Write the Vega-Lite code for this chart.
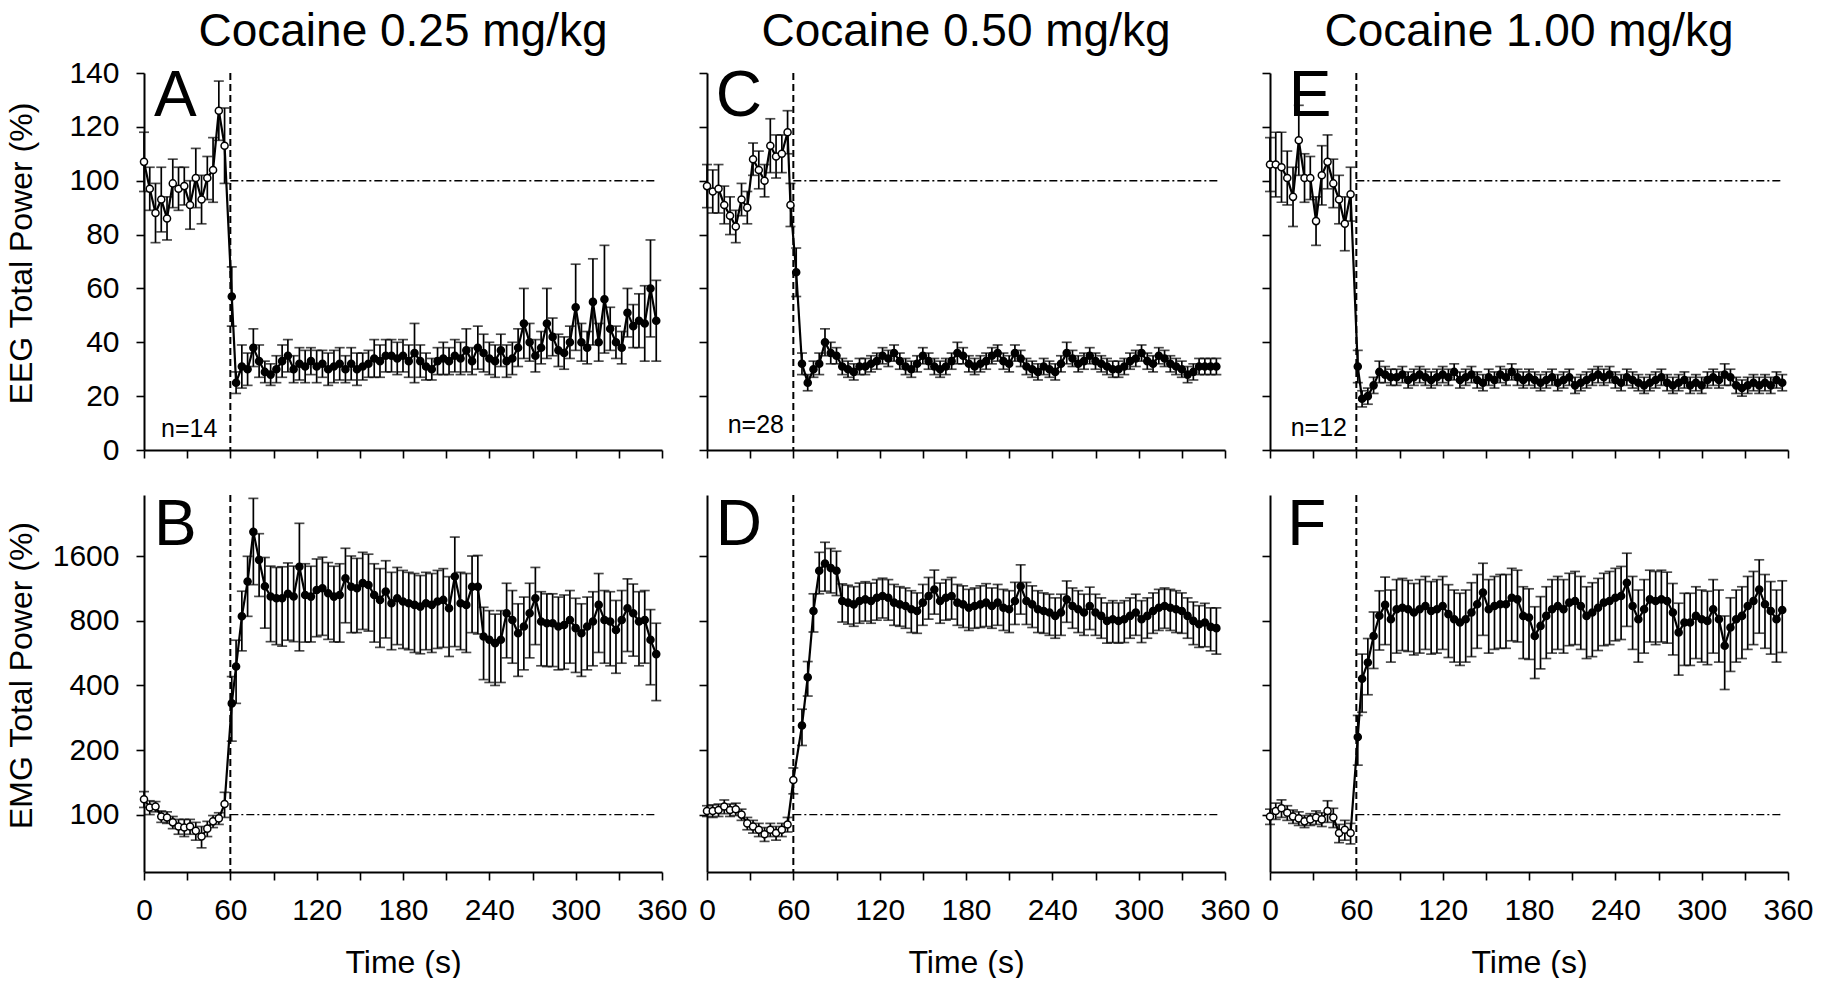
{
"$schema":"https://vega.github.io/schema/vega-lite/v6.json",
"background":"white",
"padding":{"left":4,"top":9,"right":5,"bottom":0},
"datasets":{"d":[
{"p":"A","t":0,"m":107,"e":11},{"p":"A","t":4,"m":97,"e":8},{"p":"A","t":8,"m":88,"e":11},{"p":"A","t":12,"m":93,"e":12},{"p":"A","t":16,"m":86,"e":8},{"p":"A","t":20,"m":99,"e":9},{"p":"A","t":24,"m":97,"e":8},{"p":"A","t":28,"m":98,"e":7},{"p":"A","t":32,"m":91,"e":9},{"p":"A","t":36,"m":101,"e":11},{"p":"A","t":40,"m":93,"e":9},{"p":"A","t":44,"m":101,"e":8},{"p":"A","t":48,"m":104,"e":12},{"p":"A","t":52,"m":126,"e":11},{"p":"A","t":56,"m":113,"e":14},
{"p":"A","t":61,"m":57,"e":11},{"p":"A","t":64,"m":25,"e":4},{"p":"A","t":68,"m":31,"e":8},{"p":"A","t":72,"m":30,"e":6},{"p":"A","t":76,"m":38,"e":7},{"p":"A","t":80,"m":33,"e":6},{"p":"A","t":84,"m":29,"e":4},{"p":"A","t":88,"m":28,"e":4},{"p":"A","t":92,"m":30,"e":5},{"p":"A","t":96,"m":33,"e":6},{"p":"A","t":100,"m":35,"e":6},{"p":"A","t":104,"m":30,"e":5},{"p":"A","t":108,"m":32,"e":6},{"p":"A","t":112,"m":31,"e":6},{"p":"A","t":116,"m":33,"e":5},{"p":"A","t":120,"m":31,"e":6},{"p":"A","t":124,"m":32,"e":5},{"p":"A","t":128,"m":30,"e":6},{"p":"A","t":132,"m":31,"e":6},{"p":"A","t":136,"m":32,"e":6},{"p":"A","t":140,"m":30,"e":5},{"p":"A","t":144,"m":32,"e":6},{"p":"A","t":148,"m":30,"e":6},{"p":"A","t":152,"m":31,"e":5},{"p":"A","t":156,"m":32,"e":5},{"p":"A","t":160,"m":34,"e":7},{"p":"A","t":164,"m":33,"e":6},{"p":"A","t":168,"m":35,"e":6},{"p":"A","t":172,"m":35,"e":6},{"p":"A","t":176,"m":34,"e":6},{"p":"A","t":180,"m":35,"e":6},{"p":"A","t":184,"m":33,"e":6},{"p":"A","t":188,"m":36,"e":11},{"p":"A","t":192,"m":33,"e":6},{"p":"A","t":196,"m":31,"e":5},{"p":"A","t":200,"m":30,"e":4},{"p":"A","t":204,"m":33,"e":5},{"p":"A","t":208,"m":34,"e":6},{"p":"A","t":212,"m":33,"e":5},{"p":"A","t":216,"m":35,"e":6},{"p":"A","t":220,"m":34,"e":6},{"p":"A","t":224,"m":37,"e":8},{"p":"A","t":228,"m":33,"e":5},{"p":"A","t":232,"m":38,"e":8},{"p":"A","t":236,"m":36,"e":7},{"p":"A","t":240,"m":34,"e":6},{"p":"A","t":244,"m":33,"e":6},{"p":"A","t":248,"m":37,"e":6},{"p":"A","t":252,"m":33,"e":6},{"p":"A","t":256,"m":34,"e":6},{"p":"A","t":260,"m":38,"e":7},{"p":"A","t":264,"m":47,"e":13},{"p":"A","t":268,"m":40,"e":7},{"p":"A","t":272,"m":35,"e":6},{"p":"A","t":276,"m":38,"e":6},{"p":"A","t":280,"m":47,"e":13},{"p":"A","t":284,"m":42,"e":7},{"p":"A","t":288,"m":37,"e":6},{"p":"A","t":292,"m":36,"e":6},{"p":"A","t":296,"m":40,"e":6},{"p":"A","t":300,"m":53,"e":16},{"p":"A","t":304,"m":40,"e":7},{"p":"A","t":308,"m":38,"e":6},{"p":"A","t":312,"m":55,"e":16},{"p":"A","t":316,"m":40,"e":7},{"p":"A","t":320,"m":56,"e":20},{"p":"A","t":324,"m":45,"e":8},{"p":"A","t":328,"m":40,"e":6},{"p":"A","t":332,"m":38,"e":6},{"p":"A","t":336,"m":51,"e":9},{"p":"A","t":340,"m":46,"e":8},{"p":"A","t":344,"m":48,"e":10},{"p":"A","t":348,"m":47,"e":14},{"p":"A","t":352,"m":60,"e":18},{"p":"A","t":356,"m":48,"e":15},
{"p":"B","t":0,"m":118,"e":10},{"p":"B","t":4,"m":108,"e":8},{"p":"B","t":8,"m":109,"e":6},{"p":"B","t":12,"m":98,"e":6},{"p":"B","t":16,"m":97,"e":6},{"p":"B","t":20,"m":92,"e":6},{"p":"B","t":24,"m":88,"e":7},{"p":"B","t":28,"m":87,"e":8},{"p":"B","t":32,"m":88,"e":7},{"p":"B","t":36,"m":84,"e":8},{"p":"B","t":40,"m":79,"e":9},{"p":"B","t":44,"m":86,"e":7},{"p":"B","t":48,"m":93,"e":6},{"p":"B","t":52,"m":96,"e":6},{"p":"B","t":56,"m":112,"e":15},
{"p":"B","t":61,"m":330,"e":110},{"p":"B","t":64,"m":490,"e":160},{"p":"B","t":68,"m":840,"e":260},{"p":"B","t":72,"m":1220,"e":380},{"p":"B","t":76,"m":2080,"e":900},{"p":"B","t":80,"m":1540,"e":500},{"p":"B","t":84,"m":1160,"e":420},{"p":"B","t":88,"m":1040,"e":400},{"p":"B","t":92,"m":1020,"e":400},{"p":"B","t":96,"m":1020,"e":410},{"p":"B","t":100,"m":1070,"e":420},{"p":"B","t":104,"m":1040,"e":400},{"p":"B","t":108,"m":1430,"e":850},{"p":"B","t":112,"m":1057,"e":420},{"p":"B","t":116,"m":1038,"e":400},{"p":"B","t":120,"m":1115,"e":440},{"p":"B","t":124,"m":1135,"e":450},{"p":"B","t":128,"m":1076,"e":420},{"p":"B","t":132,"m":1038,"e":400},{"p":"B","t":136,"m":1057,"e":420},{"p":"B","t":140,"m":1264,"e":480},{"p":"B","t":144,"m":1155,"e":450},{"p":"B","t":148,"m":1135,"e":430},{"p":"B","t":152,"m":1200,"e":470},{"p":"B","t":156,"m":1177,"e":460},{"p":"B","t":160,"m":1057,"e":420},{"p":"B","t":164,"m":1002,"e":400},{"p":"B","t":168,"m":1096,"e":430},{"p":"B","t":172,"m":967,"e":380},{"p":"B","t":176,"m":1020,"e":400},{"p":"B","t":180,"m":985,"e":390},{"p":"B","t":184,"m":967,"e":380},{"p":"B","t":188,"m":950,"e":380},{"p":"B","t":192,"m":932,"e":370},{"p":"B","t":196,"m":967,"e":380},{"p":"B","t":200,"m":950,"e":380},{"p":"B","t":204,"m":985,"e":390},{"p":"B","t":208,"m":1002,"e":400},{"p":"B","t":212,"m":916,"e":370},{"p":"B","t":216,"m":1287,"e":680},{"p":"B","t":220,"m":967,"e":380},{"p":"B","t":224,"m":950,"e":380},{"p":"B","t":228,"m":1155,"e":450},{"p":"B","t":232,"m":1155,"e":460},{"p":"B","t":236,"m":676,"e":250},{"p":"B","t":240,"m":653,"e":240},{"p":"B","t":244,"m":630,"e":230},{"p":"B","t":248,"m":653,"e":240},{"p":"B","t":252,"m":868,"e":330},{"p":"B","t":256,"m":808,"e":300},{"p":"B","t":260,"m":701,"e":260},{"p":"B","t":264,"m":753,"e":280},{"p":"B","t":268,"m":868,"e":330},{"p":"B","t":272,"m":1020,"e":400},{"p":"B","t":276,"m":794,"e":300},{"p":"B","t":280,"m":780,"e":290},{"p":"B","t":284,"m":780,"e":290},{"p":"B","t":288,"m":753,"e":280},{"p":"B","t":292,"m":766,"e":290},{"p":"B","t":296,"m":808,"e":300},{"p":"B","t":300,"m":740,"e":280},{"p":"B","t":304,"m":701,"e":260},{"p":"B","t":308,"m":753,"e":280},{"p":"B","t":312,"m":794,"e":300},{"p":"B","t":316,"m":950,"e":380},{"p":"B","t":320,"m":808,"e":300},{"p":"B","t":324,"m":794,"e":300},{"p":"B","t":328,"m":726,"e":270},{"p":"B","t":332,"m":808,"e":300},{"p":"B","t":336,"m":916,"e":340},{"p":"B","t":340,"m":868,"e":320},{"p":"B","t":344,"m":794,"e":300},{"p":"B","t":348,"m":808,"e":300},{"p":"B","t":352,"m":653,"e":250},{"p":"B","t":356,"m":560,"e":220},
{"p":"C","t":0,"m":98,"e":8},{"p":"C","t":4,"m":96,"e":8},{"p":"C","t":8,"m":97,"e":9},{"p":"C","t":12,"m":91,"e":7},{"p":"C","t":16,"m":87,"e":7},{"p":"C","t":20,"m":83,"e":6},{"p":"C","t":24,"m":93,"e":6},{"p":"C","t":28,"m":90,"e":6},{"p":"C","t":32,"m":108,"e":6},{"p":"C","t":36,"m":104,"e":7},{"p":"C","t":40,"m":100,"e":6},{"p":"C","t":44,"m":113,"e":10},{"p":"C","t":48,"m":109,"e":8},{"p":"C","t":52,"m":110,"e":7},{"p":"C","t":56,"m":118,"e":8},{"p":"C","t":58,"m":91,"e":8},
{"p":"C","t":62,"m":66,"e":9},{"p":"C","t":66,"m":32,"e":4},{"p":"C","t":70,"m":25,"e":3},{"p":"C","t":74,"m":30,"e":3},{"p":"C","t":78,"m":32,"e":4},{"p":"C","t":82,"m":40,"e":5},{"p":"C","t":86,"m":36,"e":4},{"p":"C","t":90,"m":35,"e":3},{"p":"C","t":94,"m":31,"e":3},{"p":"C","t":98,"m":30,"e":3},{"p":"C","t":102,"m":29,"e":3},{"p":"C","t":106,"m":31,"e":3},{"p":"C","t":110,"m":31,"e":3},{"p":"C","t":114,"m":32,"e":3},{"p":"C","t":118,"m":33,"e":3},{"p":"C","t":122,"m":35,"e":3},{"p":"C","t":126,"m":34,"e":3},{"p":"C","t":130,"m":36,"e":3},{"p":"C","t":134,"m":33,"e":3},{"p":"C","t":138,"m":31,"e":3},{"p":"C","t":142,"m":30,"e":3},{"p":"C","t":146,"m":32,"e":3},{"p":"C","t":150,"m":35,"e":3},{"p":"C","t":154,"m":33,"e":3},{"p":"C","t":158,"m":31,"e":3},{"p":"C","t":162,"m":30,"e":3},{"p":"C","t":166,"m":31,"e":3},{"p":"C","t":170,"m":33,"e":3},{"p":"C","t":174,"m":36,"e":4},{"p":"C","t":178,"m":35,"e":3},{"p":"C","t":182,"m":32,"e":3},{"p":"C","t":186,"m":31,"e":3},{"p":"C","t":190,"m":32,"e":3},{"p":"C","t":194,"m":33,"e":3},{"p":"C","t":198,"m":35,"e":3},{"p":"C","t":202,"m":36,"e":3},{"p":"C","t":206,"m":33,"e":3},{"p":"C","t":210,"m":32,"e":3},{"p":"C","t":214,"m":36,"e":3},{"p":"C","t":218,"m":34,"e":3},{"p":"C","t":222,"m":31,"e":3},{"p":"C","t":226,"m":30,"e":3},{"p":"C","t":230,"m":29,"e":3},{"p":"C","t":234,"m":31,"e":3},{"p":"C","t":238,"m":30,"e":3},{"p":"C","t":242,"m":29,"e":3},{"p":"C","t":246,"m":32,"e":3},{"p":"C","t":250,"m":36,"e":4},{"p":"C","t":254,"m":34,"e":3},{"p":"C","t":258,"m":32,"e":3},{"p":"C","t":262,"m":33,"e":3},{"p":"C","t":266,"m":35,"e":3},{"p":"C","t":270,"m":33,"e":3},{"p":"C","t":274,"m":32,"e":3},{"p":"C","t":278,"m":31,"e":3},{"p":"C","t":282,"m":30,"e":3},{"p":"C","t":286,"m":30,"e":3},{"p":"C","t":290,"m":31,"e":3},{"p":"C","t":294,"m":33,"e":3},{"p":"C","t":298,"m":34,"e":3},{"p":"C","t":302,"m":36,"e":3},{"p":"C","t":306,"m":33,"e":3},{"p":"C","t":310,"m":32,"e":3},{"p":"C","t":314,"m":35,"e":3},{"p":"C","t":318,"m":34,"e":3},{"p":"C","t":322,"m":32,"e":3},{"p":"C","t":326,"m":31,"e":3},{"p":"C","t":330,"m":30,"e":3},{"p":"C","t":334,"m":28,"e":3},{"p":"C","t":338,"m":29,"e":3},{"p":"C","t":342,"m":31,"e":3},{"p":"C","t":346,"m":31,"e":3},{"p":"C","t":350,"m":31,"e":3},{"p":"C","t":354,"m":31,"e":3},
{"p":"D","t":0,"m":104,"e":6},{"p":"D","t":4,"m":104,"e":7},{"p":"D","t":8,"m":105,"e":7},{"p":"D","t":12,"m":109,"e":8},{"p":"D","t":16,"m":105,"e":7},{"p":"D","t":20,"m":106,"e":7},{"p":"D","t":24,"m":100,"e":6},{"p":"D","t":28,"m":91,"e":6},{"p":"D","t":32,"m":88,"e":6},{"p":"D","t":36,"m":85,"e":6},{"p":"D","t":40,"m":81,"e":6},{"p":"D","t":44,"m":85,"e":6},{"p":"D","t":48,"m":82,"e":6},{"p":"D","t":52,"m":85,"e":6},{"p":"D","t":56,"m":90,"e":7},{"p":"D","t":60,"m":145,"e":20},
{"p":"D","t":66,"m":260,"e":50},{"p":"D","t":70,"m":437,"e":80},{"p":"D","t":74,"m":890,"e":180},{"p":"D","t":78,"m":1370,"e":300},{"p":"D","t":82,"m":1480,"e":380},{"p":"D","t":86,"m":1410,"e":330},{"p":"D","t":90,"m":1370,"e":320},{"p":"D","t":94,"m":990,"e":200},{"p":"D","t":98,"m":973,"e":200},{"p":"D","t":102,"m":955,"e":200},{"p":"D","t":106,"m":990,"e":210},{"p":"D","t":110,"m":1008,"e":210},{"p":"D","t":114,"m":990,"e":210},{"p":"D","t":118,"m":1026,"e":220},{"p":"D","t":122,"m":1045,"e":220},{"p":"D","t":126,"m":1026,"e":220},{"p":"D","t":130,"m":973,"e":210},{"p":"D","t":134,"m":955,"e":200},{"p":"D","t":138,"m":939,"e":200},{"p":"D","t":142,"m":906,"e":200},{"p":"D","t":146,"m":890,"e":190},{"p":"D","t":150,"m":973,"e":210},{"p":"D","t":154,"m":1045,"e":230},{"p":"D","t":158,"m":1120,"e":260},{"p":"D","t":162,"m":990,"e":210},{"p":"D","t":166,"m":1026,"e":220},{"p":"D","t":170,"m":1045,"e":230},{"p":"D","t":174,"m":973,"e":210},{"p":"D","t":178,"m":955,"e":210},{"p":"D","t":182,"m":922,"e":200},{"p":"D","t":186,"m":939,"e":200},{"p":"D","t":190,"m":955,"e":210},{"p":"D","t":194,"m":973,"e":220},{"p":"D","t":198,"m":939,"e":200},{"p":"D","t":202,"m":973,"e":210},{"p":"D","t":206,"m":922,"e":200},{"p":"D","t":210,"m":906,"e":200},{"p":"D","t":214,"m":990,"e":220},{"p":"D","t":218,"m":1160,"e":300},{"p":"D","t":222,"m":990,"e":220},{"p":"D","t":226,"m":955,"e":210},{"p":"D","t":230,"m":906,"e":200},{"p":"D","t":234,"m":890,"e":190},{"p":"D","t":238,"m":875,"e":190},{"p":"D","t":242,"m":844,"e":180},{"p":"D","t":246,"m":875,"e":190},{"p":"D","t":250,"m":1008,"e":220},{"p":"D","t":254,"m":939,"e":200},{"p":"D","t":258,"m":906,"e":200},{"p":"D","t":262,"m":875,"e":190},{"p":"D","t":266,"m":939,"e":210},{"p":"D","t":270,"m":875,"e":190},{"p":"D","t":274,"m":844,"e":180},{"p":"D","t":278,"m":800,"e":170},{"p":"D","t":282,"m":814,"e":180},{"p":"D","t":286,"m":800,"e":170},{"p":"D","t":290,"m":814,"e":180},{"p":"D","t":294,"m":844,"e":180},{"p":"D","t":298,"m":875,"e":190},{"p":"D","t":302,"m":814,"e":180},{"p":"D","t":306,"m":844,"e":180},{"p":"D","t":310,"m":890,"e":190},{"p":"D","t":314,"m":922,"e":200},{"p":"D","t":318,"m":939,"e":200},{"p":"D","t":322,"m":922,"e":200},{"p":"D","t":326,"m":906,"e":200},{"p":"D","t":330,"m":890,"e":190},{"p":"D","t":334,"m":844,"e":180},{"p":"D","t":338,"m":800,"e":180},{"p":"D","t":342,"m":772,"e":170},{"p":"D","t":346,"m":786,"e":180},{"p":"D","t":350,"m":750,"e":170},{"p":"D","t":354,"m":740,"e":180},
{"p":"E","t":0,"m":106,"e":10},{"p":"E","t":4,"m":106,"e":12},{"p":"E","t":8,"m":105,"e":13},{"p":"E","t":12,"m":101,"e":10},{"p":"E","t":16,"m":94,"e":11},{"p":"E","t":20,"m":115,"e":13},{"p":"E","t":24,"m":101,"e":9},{"p":"E","t":28,"m":101,"e":8},{"p":"E","t":32,"m":85,"e":9},{"p":"E","t":36,"m":102,"e":11},{"p":"E","t":40,"m":107,"e":10},{"p":"E","t":44,"m":99,"e":9},{"p":"E","t":48,"m":93,"e":9},{"p":"E","t":52,"m":84,"e":10},{"p":"E","t":56,"m":95,"e":10},
{"p":"E","t":61,"m":31,"e":6},{"p":"E","t":64,"m":19,"e":3},{"p":"E","t":68,"m":20,"e":3},{"p":"E","t":72,"m":24,"e":3},{"p":"E","t":76,"m":29,"e":4},{"p":"E","t":80,"m":28,"e":3},{"p":"E","t":84,"m":27,"e":3},{"p":"E","t":88,"m":27,"e":3},{"p":"E","t":92,"m":28,"e":3},{"p":"E","t":96,"m":26,"e":3},{"p":"E","t":100,"m":27,"e":3},{"p":"E","t":104,"m":28,"e":3},{"p":"E","t":108,"m":27,"e":3},{"p":"E","t":112,"m":26,"e":3},{"p":"E","t":116,"m":27,"e":3},{"p":"E","t":120,"m":28,"e":3},{"p":"E","t":124,"m":27,"e":3},{"p":"E","t":128,"m":29,"e":3},{"p":"E","t":132,"m":26,"e":3},{"p":"E","t":136,"m":27,"e":3},{"p":"E","t":140,"m":28,"e":3},{"p":"E","t":144,"m":26,"e":3},{"p":"E","t":148,"m":25,"e":3},{"p":"E","t":152,"m":27,"e":3},{"p":"E","t":156,"m":26,"e":3},{"p":"E","t":160,"m":28,"e":3},{"p":"E","t":164,"m":27,"e":3},{"p":"E","t":168,"m":29,"e":3},{"p":"E","t":172,"m":27,"e":3},{"p":"E","t":176,"m":26,"e":3},{"p":"E","t":180,"m":27,"e":3},{"p":"E","t":184,"m":26,"e":3},{"p":"E","t":188,"m":25,"e":3},{"p":"E","t":192,"m":26,"e":3},{"p":"E","t":196,"m":27,"e":3},{"p":"E","t":200,"m":25,"e":3},{"p":"E","t":204,"m":26,"e":3},{"p":"E","t":208,"m":27,"e":3},{"p":"E","t":212,"m":24,"e":3},{"p":"E","t":216,"m":25,"e":3},{"p":"E","t":220,"m":26,"e":3},{"p":"E","t":224,"m":27,"e":3},{"p":"E","t":228,"m":28,"e":3},{"p":"E","t":232,"m":27,"e":3},{"p":"E","t":236,"m":28,"e":3},{"p":"E","t":240,"m":26,"e":3},{"p":"E","t":244,"m":25,"e":3},{"p":"E","t":248,"m":27,"e":3},{"p":"E","t":252,"m":26,"e":3},{"p":"E","t":256,"m":25,"e":3},{"p":"E","t":260,"m":24,"e":3},{"p":"E","t":264,"m":25,"e":3},{"p":"E","t":268,"m":26,"e":3},{"p":"E","t":272,"m":27,"e":3},{"p":"E","t":276,"m":25,"e":3},{"p":"E","t":280,"m":24,"e":3},{"p":"E","t":284,"m":25,"e":3},{"p":"E","t":288,"m":26,"e":3},{"p":"E","t":292,"m":24,"e":3},{"p":"E","t":296,"m":25,"e":3},{"p":"E","t":300,"m":24,"e":3},{"p":"E","t":304,"m":26,"e":3},{"p":"E","t":308,"m":27,"e":3},{"p":"E","t":312,"m":26,"e":3},{"p":"E","t":316,"m":28,"e":4},{"p":"E","t":320,"m":27,"e":3},{"p":"E","t":324,"m":24,"e":3},{"p":"E","t":328,"m":23,"e":3},{"p":"E","t":332,"m":24,"e":3},{"p":"E","t":336,"m":25,"e":3},{"p":"E","t":340,"m":24,"e":3},{"p":"E","t":344,"m":25,"e":3},{"p":"E","t":348,"m":24,"e":3},{"p":"E","t":352,"m":26,"e":3},{"p":"E","t":356,"m":25,"e":3},
{"p":"F","t":0,"m":98,"e":8},{"p":"F","t":4,"m":104,"e":9},{"p":"F","t":8,"m":107,"e":10},{"p":"F","t":12,"m":102,"e":8},{"p":"F","t":16,"m":98,"e":7},{"p":"F","t":20,"m":96,"e":7},{"p":"F","t":24,"m":93,"e":6},{"p":"F","t":28,"m":95,"e":6},{"p":"F","t":32,"m":97,"e":7},{"p":"F","t":36,"m":95,"e":7},{"p":"F","t":40,"m":104,"e":12},{"p":"F","t":44,"m":97,"e":10},{"p":"F","t":48,"m":82,"e":8},{"p":"F","t":52,"m":85,"e":9},{"p":"F","t":56,"m":82,"e":9},
{"p":"F","t":61,"m":230,"e":60},{"p":"F","t":64,"m":430,"e":130},{"p":"F","t":68,"m":512,"e":150},{"p":"F","t":72,"m":680,"e":200},{"p":"F","t":76,"m":845,"e":260},{"p":"F","t":80,"m":950,"e":330},{"p":"F","t":84,"m":814,"e":300},{"p":"F","t":88,"m":906,"e":340},{"p":"F","t":92,"m":922,"e":340},{"p":"F","t":96,"m":906,"e":330},{"p":"F","t":100,"m":875,"e":320},{"p":"F","t":104,"m":906,"e":340},{"p":"F","t":108,"m":939,"e":350},{"p":"F","t":112,"m":890,"e":330},{"p":"F","t":116,"m":906,"e":340},{"p":"F","t":120,"m":939,"e":350},{"p":"F","t":124,"m":860,"e":320},{"p":"F","t":128,"m":814,"e":300},{"p":"F","t":132,"m":786,"e":290},{"p":"F","t":136,"m":814,"e":300},{"p":"F","t":140,"m":875,"e":330},{"p":"F","t":144,"m":956,"e":360},{"p":"F","t":148,"m":1085,"e":400},{"p":"F","t":152,"m":906,"e":340},{"p":"F","t":156,"m":939,"e":350},{"p":"F","t":160,"m":956,"e":360},{"p":"F","t":164,"m":956,"e":360},{"p":"F","t":168,"m":1026,"e":380},{"p":"F","t":172,"m":1008,"e":370},{"p":"F","t":176,"m":844,"e":310},{"p":"F","t":180,"m":829,"e":300},{"p":"F","t":184,"m":681,"e":250},{"p":"F","t":188,"m":758,"e":280},{"p":"F","t":192,"m":844,"e":310},{"p":"F","t":196,"m":906,"e":340},{"p":"F","t":200,"m":939,"e":350},{"p":"F","t":204,"m":906,"e":340},{"p":"F","t":208,"m":973,"e":360},{"p":"F","t":212,"m":990,"e":370},{"p":"F","t":216,"m":939,"e":350},{"p":"F","t":220,"m":844,"e":310},{"p":"F","t":224,"m":875,"e":330},{"p":"F","t":228,"m":922,"e":340},{"p":"F","t":232,"m":973,"e":360},{"p":"F","t":236,"m":990,"e":370},{"p":"F","t":240,"m":1026,"e":380},{"p":"F","t":244,"m":1045,"e":390},{"p":"F","t":248,"m":1204,"e":450},{"p":"F","t":252,"m":939,"e":350},{"p":"F","t":256,"m":814,"e":300},{"p":"F","t":260,"m":906,"e":340},{"p":"F","t":264,"m":1008,"e":370},{"p":"F","t":268,"m":990,"e":370},{"p":"F","t":272,"m":1008,"e":370},{"p":"F","t":276,"m":990,"e":360},{"p":"F","t":280,"m":875,"e":320},{"p":"F","t":284,"m":707,"e":260},{"p":"F","t":288,"m":786,"e":290},{"p":"F","t":292,"m":786,"e":290},{"p":"F","t":296,"m":844,"e":310},{"p":"F","t":300,"m":814,"e":300},{"p":"F","t":304,"m":800,"e":300},{"p":"F","t":308,"m":906,"e":340},{"p":"F","t":312,"m":814,"e":300},{"p":"F","t":316,"m":613,"e":230},{"p":"F","t":320,"m":745,"e":280},{"p":"F","t":324,"m":814,"e":300},{"p":"F","t":328,"m":844,"e":310},{"p":"F","t":332,"m":939,"e":350},{"p":"F","t":336,"m":990,"e":370},{"p":"F","t":340,"m":1121,"e":420},{"p":"F","t":344,"m":956,"e":360},{"p":"F","t":348,"m":890,"e":330},{"p":"F","t":352,"m":814,"e":300},{"p":"F","t":356,"m":900,"e":330}
]},
"data":{"name":"d"},
"columns":3,
"spacing":{"row":45,"column":45},
"bounds":"flush",
"concat":[
 {"width":518,"height":377,
  "layer":[
   {"data":{"values":[{}]},"mark":{"type":"rule","color":"black","strokeWidth":2,"strokeDash":[7,4]},"encoding":{"x":{"datum":60}}},
   {"data":{"values":[{}]},"mark":{"type":"rule","color":"black","strokeWidth":1.4,"strokeDash":[8,3,2,3]},"encoding":{"x":{"datum":60},"x2":{"datum":355},"y":{"datum":100}}},
   {"transform":[{"filter":"datum.p==='A'"}],
    "encoding":{
     "x":{"field":"t","type":"quantitative","scale":{"domain":[0,360],"nice":false},"axis":{"values":[0,30,60,90,120,150,180,210,240,270,300,330,360],"labels":false,"title":null}},
     "y":{"field":"m","type":"quantitative","scale":{"domain":[0,140],"nice":false,"zero":false},"axis":{"values":[0,10,20,30,40,50,60,70,80,90,100,110,120,130,140],"labelExpr":"datum.value % 20 === 0 ? datum.label : ''","title":"EEG Total Power (%)","titleX":-106,"titleY":180}}},
    "layer":[
     {"mark":{"type":"errorbar","color":"black","thickness":1.7,"ticks":{"size":10,"thickness":1.7,"color":"black"}},"encoding":{"yError":{"field":"e"}}},
     {"mark":{"type":"line","color":"black","strokeWidth":2.2}},
     {"mark":{"type":"point","shape":"circle","filled":true,"size":50,"stroke":"black","strokeWidth":1.5,"opacity":1},"encoding":{"fill":{"condition":{"test":"datum.t < 60.5","value":"white"},"value":"black"}}}
    ]},
   {"data":{"values":[{}]},"mark":{"type":"text","text":"Cocaine 0.25 mg/kg","fontSize":46,"align":"center","baseline":"alphabetic"},"encoding":{"x":{"datum":180},"y":{"datum":150}}},
   {"data":{"values":[{}]},"mark":{"type":"text","text":"A","fontSize":64,"align":"left","baseline":"alphabetic"},"encoding":{"x":{"datum":7},"y":{"datum":124}}},
   {"data":{"values":[{}]},"mark":{"type":"text","text":"n=14","fontSize":25,"align":"right","baseline":"alphabetic"},"encoding":{"x":{"datum":51},"y":{"datum":4.8}}}
  ]},
 {"width":518,"height":377,
  "layer":[
   {"data":{"values":[{}]},"mark":{"type":"rule","color":"black","strokeWidth":2,"strokeDash":[7,4]},"encoding":{"x":{"datum":60}}},
   {"data":{"values":[{}]},"mark":{"type":"rule","color":"black","strokeWidth":1.4,"strokeDash":[8,3,2,3]},"encoding":{"x":{"datum":60},"x2":{"datum":355},"y":{"datum":100}}},
   {"transform":[{"filter":"datum.p==='C'"}],
    "encoding":{
     "x":{"field":"t","type":"quantitative","scale":{"domain":[0,360],"nice":false},"axis":{"values":[0,30,60,90,120,150,180,210,240,270,300,330,360],"labels":false,"title":null}},
     "y":{"field":"m","type":"quantitative","scale":{"domain":[0,140],"nice":false,"zero":false},"axis":{"values":[0,10,20,30,40,50,60,70,80,90,100,110,120,130,140],"labels":false,"title":null}}},
    "layer":[
     {"mark":{"type":"errorbar","color":"black","thickness":1.7,"ticks":{"size":10,"thickness":1.7,"color":"black"}},"encoding":{"yError":{"field":"e"}}},
     {"mark":{"type":"line","color":"black","strokeWidth":2.2}},
     {"mark":{"type":"point","shape":"circle","filled":true,"size":50,"stroke":"black","strokeWidth":1.5,"opacity":1},"encoding":{"fill":{"condition":{"test":"datum.t < 60.5","value":"white"},"value":"black"}}}
    ]},
   {"data":{"values":[{}]},"mark":{"type":"text","text":"Cocaine 0.50 mg/kg","fontSize":46,"align":"center","baseline":"alphabetic"},"encoding":{"x":{"datum":180},"y":{"datum":150}}},
   {"data":{"values":[{}]},"mark":{"type":"text","text":"C","fontSize":64,"align":"left","baseline":"alphabetic"},"encoding":{"x":{"datum":6},"y":{"datum":124}}},
   {"data":{"values":[{}]},"mark":{"type":"text","text":"n=28","fontSize":25,"align":"right","baseline":"alphabetic"},"encoding":{"x":{"datum":53.5},"y":{"datum":6.3}}}
  ]},
 {"width":518,"height":377,
  "layer":[
   {"data":{"values":[{}]},"mark":{"type":"rule","color":"black","strokeWidth":2,"strokeDash":[7,4]},"encoding":{"x":{"datum":60}}},
   {"data":{"values":[{}]},"mark":{"type":"rule","color":"black","strokeWidth":1.4,"strokeDash":[8,3,2,3]},"encoding":{"x":{"datum":60},"x2":{"datum":355},"y":{"datum":100}}},
   {"transform":[{"filter":"datum.p==='E'"}],
    "encoding":{
     "x":{"field":"t","type":"quantitative","scale":{"domain":[0,360],"nice":false},"axis":{"values":[0,30,60,90,120,150,180,210,240,270,300,330,360],"labels":false,"title":null}},
     "y":{"field":"m","type":"quantitative","scale":{"domain":[0,140],"nice":false,"zero":false},"axis":{"values":[0,10,20,30,40,50,60,70,80,90,100,110,120,130,140],"labels":false,"title":null}}},
    "layer":[
     {"mark":{"type":"errorbar","color":"black","thickness":1.7,"ticks":{"size":10,"thickness":1.7,"color":"black"}},"encoding":{"yError":{"field":"e"}}},
     {"mark":{"type":"line","color":"black","strokeWidth":2.2}},
     {"mark":{"type":"point","shape":"circle","filled":true,"size":50,"stroke":"black","strokeWidth":1.5,"opacity":1},"encoding":{"fill":{"condition":{"test":"datum.t < 60.5","value":"white"},"value":"black"}}}
    ]},
   {"data":{"values":[{}]},"mark":{"type":"text","text":"Cocaine 1.00 mg/kg","fontSize":46,"align":"center","baseline":"alphabetic"},"encoding":{"x":{"datum":180},"y":{"datum":150}}},
   {"data":{"values":[{}]},"mark":{"type":"text","text":"E","fontSize":64,"align":"left","baseline":"alphabetic"},"encoding":{"x":{"datum":13},"y":{"datum":124}}},
   {"data":{"values":[{}]},"mark":{"type":"text","text":"n=12","fontSize":25,"align":"right","baseline":"alphabetic"},"encoding":{"x":{"datum":53.5},"y":{"datum":5.2}}}
  ]},
 {"width":518,"height":377,
  "layer":[
   {"data":{"values":[{}]},"mark":{"type":"rule","color":"black","strokeWidth":2,"strokeDash":[7,4]},"encoding":{"x":{"datum":60}}},
   {"data":{"values":[{}]},"mark":{"type":"rule","color":"black","strokeWidth":1.4,"strokeDash":[8,3,2,3]},"encoding":{"x":{"datum":60},"x2":{"datum":355},"y":{"datum":100}}},
   {"transform":[{"filter":"datum.p==='B'"}],
    "encoding":{
     "x":{"field":"t","type":"quantitative","scale":{"domain":[0,360],"nice":false},"axis":{"values":[0,30,60,90,120,150,180,210,240,270,300,330,360],"labelExpr":"datum.value % 60 === 0 ? datum.label : ''","title":"Time (s)","titleY":100,"titleBaseline":"alphabetic","labelBaseline":"alphabetic","labelPadding":39}},
     "y":{"field":"m","type":"quantitative","scale":{"type":"log","domain":[54,3090],"nice":false},"axis":{"values":[100,200,400,800,1600],"format":"d","title":"EMG Total Power (%)","titleX":-106,"titleY":180}}},
    "layer":[
     {"mark":{"type":"errorbar","color":"black","thickness":1.7,"ticks":{"size":10,"thickness":1.7,"color":"black"}},"encoding":{"yError":{"field":"e"}}},
     {"mark":{"type":"line","color":"black","strokeWidth":2.2}},
     {"mark":{"type":"point","shape":"circle","filled":true,"size":50,"stroke":"black","strokeWidth":1.5,"opacity":1},"encoding":{"fill":{"condition":{"test":"datum.t < 60.5","value":"white"},"value":"black"}}}
    ]},
   {"data":{"values":[{}]},"mark":{"type":"text","text":"B","fontSize":64,"align":"left","baseline":"alphabetic"},"encoding":{"x":{"datum":7},"y":{"datum":1808}}}
  ]},
 {"width":518,"height":377,
  "layer":[
   {"data":{"values":[{}]},"mark":{"type":"rule","color":"black","strokeWidth":2,"strokeDash":[7,4]},"encoding":{"x":{"datum":60}}},
   {"data":{"values":[{}]},"mark":{"type":"rule","color":"black","strokeWidth":1.4,"strokeDash":[8,3,2,3]},"encoding":{"x":{"datum":60},"x2":{"datum":355},"y":{"datum":100}}},
   {"transform":[{"filter":"datum.p==='D'"}],
    "encoding":{
     "x":{"field":"t","type":"quantitative","scale":{"domain":[0,360],"nice":false},"axis":{"values":[0,30,60,90,120,150,180,210,240,270,300,330,360],"labelExpr":"datum.value % 60 === 0 ? datum.label : ''","title":"Time (s)","titleY":100,"titleBaseline":"alphabetic","labelBaseline":"alphabetic","labelPadding":39}},
     "y":{"field":"m","type":"quantitative","scale":{"type":"log","domain":[54,3090],"nice":false},"axis":{"values":[100,200,400,800,1600],"labels":false,"title":null}}},
    "layer":[
     {"mark":{"type":"errorbar","color":"black","thickness":1.7,"ticks":{"size":10,"thickness":1.7,"color":"black"}},"encoding":{"yError":{"field":"e"}}},
     {"mark":{"type":"line","color":"black","strokeWidth":2.2}},
     {"mark":{"type":"point","shape":"circle","filled":true,"size":50,"stroke":"black","strokeWidth":1.5,"opacity":1},"encoding":{"fill":{"condition":{"test":"datum.t < 60.5","value":"white"},"value":"black"}}}
    ]},
   {"data":{"values":[{}]},"mark":{"type":"text","text":"D","fontSize":64,"align":"left","baseline":"alphabetic"},"encoding":{"x":{"datum":6},"y":{"datum":1808}}}
  ]},
 {"width":518,"height":377,
  "layer":[
   {"data":{"values":[{}]},"mark":{"type":"rule","color":"black","strokeWidth":2,"strokeDash":[7,4]},"encoding":{"x":{"datum":60}}},
   {"data":{"values":[{}]},"mark":{"type":"rule","color":"black","strokeWidth":1.4,"strokeDash":[8,3,2,3]},"encoding":{"x":{"datum":60},"x2":{"datum":355},"y":{"datum":100}}},
   {"transform":[{"filter":"datum.p==='F'"}],
    "encoding":{
     "x":{"field":"t","type":"quantitative","scale":{"domain":[0,360],"nice":false},"axis":{"values":[0,30,60,90,120,150,180,210,240,270,300,330,360],"labelExpr":"datum.value % 60 === 0 ? datum.label : ''","title":"Time (s)","titleY":100,"titleBaseline":"alphabetic","labelBaseline":"alphabetic","labelPadding":39}},
     "y":{"field":"m","type":"quantitative","scale":{"type":"log","domain":[54,3090],"nice":false},"axis":{"values":[100,200,400,800,1600],"labels":false,"title":null}}},
    "layer":[
     {"mark":{"type":"errorbar","color":"black","thickness":1.7,"ticks":{"size":10,"thickness":1.7,"color":"black"}},"encoding":{"yError":{"field":"e"}}},
     {"mark":{"type":"line","color":"black","strokeWidth":2.2}},
     {"mark":{"type":"point","shape":"circle","filled":true,"size":50,"stroke":"black","strokeWidth":1.5,"opacity":1},"encoding":{"fill":{"condition":{"test":"datum.t < 60.5","value":"white"},"value":"black"}}}
    ]},
   {"data":{"values":[{}]},"mark":{"type":"text","text":"F","fontSize":64,"align":"left","baseline":"alphabetic"},"encoding":{"x":{"datum":12},"y":{"datum":1808}}}
  ]}
],
"config":{
 "view":{"stroke":null},
 "font":"Liberation Sans",
 "axis":{"domainColor":"black","domainWidth":2,"tickColor":"black","tickWidth":1.6,"tickSize":8,"labelFontSize":30,"labelColor":"black","labelFont":"Liberation Sans","titleFont":"Liberation Sans","titleFontSize":32,"titleFontWeight":"normal","titleColor":"black","grid":false,"labelPadding":17,"labelFlush":false,"labelOverlap":false},
 "text":{"font":"Liberation Sans","color":"black"}
}
}
